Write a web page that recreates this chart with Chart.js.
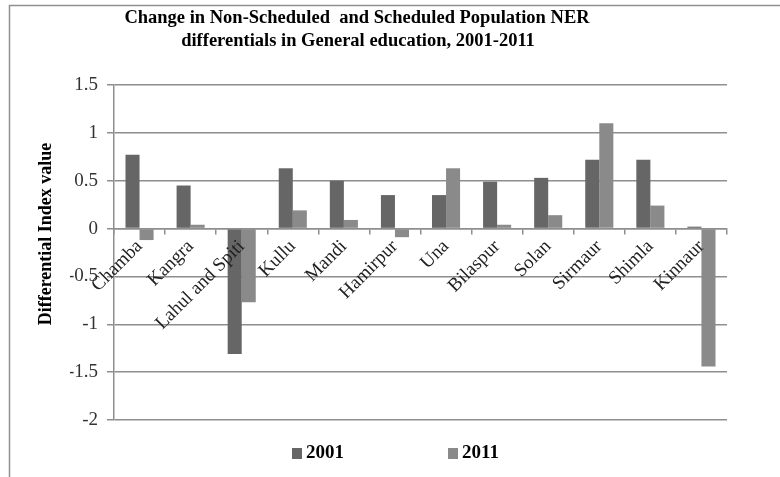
<!DOCTYPE html>
<html>
<head>
<meta charset="utf-8">
<script src="https://cdn.jsdelivr.net/npm/chart.js@4/dist/chart.umd.min.js"></script>
<style>
  html, body { margin: 0; padding: 0; background: #ffffff; }
  #wrap { width: 780px; height: 477px; position: relative; }
</style>
</head>
<body>
<div id="wrap"><canvas id="chart" width="780" height="477"></canvas></div>
<script>
// Districts of Himachal Pradesh
const districts = ['Chamba', 'Kangra', 'Lahul and Spiti', 'Kullu', 'Mandi', 'Hamirpur',
  'Una', 'Bilaspur', 'Solan', 'Sirmaur', 'Shimla', 'Kinnaur'];

// Differential index values by census year
const values2001 = [0.77, 0.45, -1.31, 0.63, 0.50, 0.35, 0.35, 0.49, 0.53, 0.72, 0.72, 0.02];
const values2011 = [-0.12, 0.04, -0.77, 0.19, 0.09, -0.09, 0.63, 0.04, 0.14, 1.10, 0.24, -1.44];

const seriesLabels = ['2001', '2011'];
const seriesColors = ['#666666', '#8a8a8a'];
const titleLines = ['Change in Non-Scheduled  and Scheduled Population NER',
  'differentials in General education, 2001-2011'];
const yAxisTitle = 'Differential Index value';

const SERIF = '"Liberation Serif", "Times New Roman", serif';
const GRID = '#8e8e8e';

// Outer frame of the chart object (top and left edges fall inside the canvas)
const framePlugin = {
  id: 'frame',
  beforeDraw(chart) {
    const ctx = chart.ctx;
    ctx.save();
    ctx.fillStyle = '#ffffff';
    ctx.fillRect(0, 0, chart.width, chart.height);
    ctx.strokeStyle = '#909090';
    ctx.lineWidth = 1.5;
    ctx.strokeRect(9.5, 5.5, 1000, 1000);
    ctx.restore();
  }
};

// Chart title, vertical axis title and the legend row underneath the plot
const textPlugin = {
  id: 'chartTexts',
  afterDraw(chart) {
    const ctx = chart.ctx;
    ctx.save();
    ctx.fillStyle = '#000000';
    ctx.textAlign = 'center';
    ctx.textBaseline = 'middle';
    ctx.font = 'bold 18.5px ' + SERIF;
    ctx.fillText(titleLines[0], 357, 18);
    ctx.fillText(titleLines[1], 358, 41);

    // legend: swatch followed by the series name
    const legendX = [292, 448];
    ctx.textAlign = 'left';
    ctx.font = 'bold 19px ' + SERIF;
    chart.data.datasets.forEach((ds, i) => {
      ctx.fillStyle = ds.backgroundColor;
      ctx.fillRect(legendX[i], 448, 10, 11);
      ctx.fillStyle = '#000000';
      ctx.fillText(ds.label, legendX[i] + 14, 453);
    });

    ctx.translate(46, 234);
    ctx.rotate(-Math.PI / 2);
    ctx.textAlign = 'center';
    ctx.font = 'bold 18px ' + SERIF;
    ctx.fillText(yAxisTitle, 0, 0);
    ctx.restore();
  }
};

new Chart(document.getElementById('chart'), {
  type: 'bar',
  data: {
    labels: districts,
    datasets: [
      { label: seriesLabels[0], data: values2001, backgroundColor: seriesColors[0], borderWidth: 0 },
      { label: seriesLabels[1], data: values2011, backgroundColor: seriesColors[1], borderWidth: 0 }
    ]
  },
  options: {
    responsive: false,
    animation: false,
    devicePixelRatio: 1,
    layout: { padding: { left: 70, right: 53, top: 85, bottom: 57 } },
    datasets: { bar: { categoryPercentage: 0.55, barPercentage: 1.0 } },
    scales: {
      x: {
        position: { y: 0 },
        afterFit(scale) { scale.height = 0; },
        grid: {
          display: true,
          offset: true,
          drawOnChartArea: false,
          drawTicks: true,
          tickLength: 5,
          color: GRID,
          lineWidth: 1.5
        },
        border: { display: true, color: GRID, width: 1.5, z: 1 },
        ticks: {
          z: 1,
          autoSkip: false,
          minRotation: 45,
          maxRotation: 45,
          padding: 2,
          color: '#222222',
          font: { family: SERIF, size: 19 }
        }
      },
      y: {
        min: -2,
        max: 1.5,
        afterFit(scale) { scale.width = 44; },
        grid: {
          color: GRID,
          lineWidth: 1.5,
          drawTicks: true,
          tickLength: 7
        },
        border: { display: true, color: GRID, width: 1.5 },
        ticks: {
          stepSize: 0.5,
          padding: 9,
          color: '#333333',
          font: { family: SERIF, size: 19 },
          callback: (v) => String(Math.round(v * 10) / 10)
        }
      }
    },
    plugins: {
      title: { display: false },
      legend: { display: false },
      tooltip: { enabled: false }
    }
  },
  plugins: [framePlugin, textPlugin]
});
</script>
</body>
</html>
